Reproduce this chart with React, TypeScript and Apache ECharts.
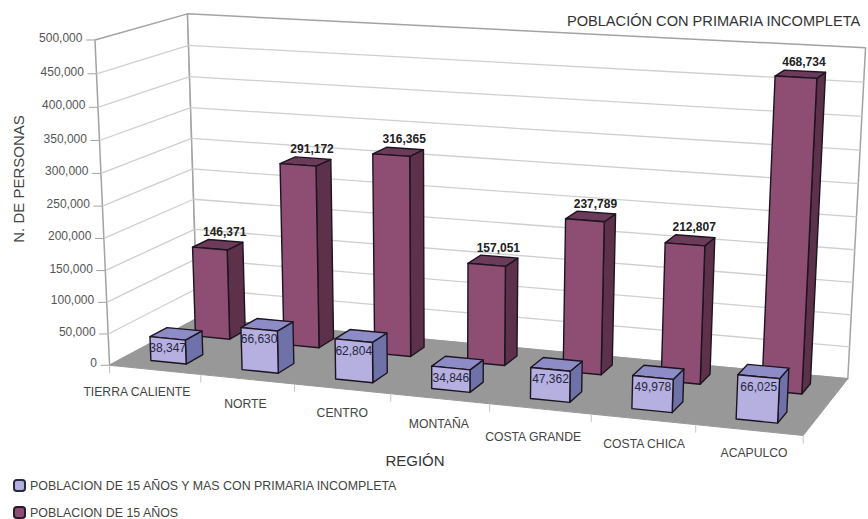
import React, { useEffect, useRef } from "react";
import * as echarts from "echarts";

const categories = ["TIERRA CALIENTE", "NORTE", "CENTRO", "MONTAÑA", "COSTA GRANDE", "COSTA CHICA", "ACAPULCO"];
const primariaIncompleta = [38347, 66630, 62804, 34846, 47362, 49978, 66025];
const poblacion15 = [146371, 291172, 316365, 157051, 237789, 212807, 468734];
const yTicks = [0, 50000, 100000, 150000, 200000, 250000, 300000, 350000, 400000, 450000, 500000];
const seriesNames = ["POBLACION DE 15 AÑOS Y MAS CON PRIMARIA INCOMPLETA", "POBLACION DE 15 AÑOS"];
const titleText = "POBLACIÓN CON PRIMARIA INCOMPLETA";
const yAxisName = "N. DE PERSONAS";
const xAxisName = "REGIÓN";

const W = 868;
const H = 519;
const FONT = '"Liberation Sans", Arial, sans-serif';

// Camera calibration: unit box (u along categories, v depth, t height) -> screen
const calibration: number[][] = [
  [0, 0, 0, 112, 364],
  [0, 0, 1, 94, 40],
  [0, 0, 1, 94, 40],
  [0, 0, 1, 94, 40],
  [0, 0, 0.5, 103, 206],
  [0, 1, 0, 195, 320],
  [0, 1, 1, 189, 14],
  [0, 1, 1, 189, 14],
  [0, 1, 0.5, 192, 168],
  [1, 1, 0, 848, 377],
  [1, 1, 1, 865, 48],
  [1, 1, 0.5, 857, 217],
  [1, 0, 0, 803, 437],
];

function solveCamera(): number[] {
  const rows: number[][] = [];
  const rhs: number[] = [];
  calibration.forEach(([u, v, t, x, y]) => {
    rows.push([u, v, t, 1, 0, 0, 0, 0, -x * u, -x * v, -x * t]);
    rhs.push(x);
    rows.push([0, 0, 0, 0, u, v, t, 1, -y * u, -y * v, -y * t]);
    rhs.push(y);
  });
  const n = 11;
  const M: number[][] = [];
  for (let i = 0; i < n; i++) {
    const r: number[] = [];
    for (let j = 0; j < n; j++) {
      r.push(rows.reduce((s, row) => s + row[i] * row[j], 0));
    }
    r.push(rows.reduce((s, row, k) => s + row[i] * rhs[k], 0));
    M.push(r);
  }
  for (let c = 0; c < n; c++) {
    let p = c;
    for (let r = c + 1; r < n; r++) if (Math.abs(M[r][c]) > Math.abs(M[p][c])) p = r;
    [M[c], M[p]] = [M[p], M[c]];
    for (let r = 0; r < n; r++) {
      if (r === c) continue;
      const f = M[r][c] / M[c][c];
      for (let k = c; k <= n; k++) M[r][k] -= f * M[c][k];
    }
  }
  return M.map((r, i) => r[n] / r[i]);
}
const cam = solveCamera();
function project(u: number, v: number, t: number): number[] {
  const w = cam[8] * u + cam[9] * v + cam[10] * t + 1;
  return [
    (cam[0] * u + cam[1] * v + cam[2] * t + cam[3]) / w,
    (cam[4] * u + cam[5] * v + cam[6] * t + cam[7]) / w,
  ];
}

const BAR_SHARE = 0.39;
const WALL = "#a3a3a3";
const GRID = "#cfcfcf";
const INK = "#1d1420";
// Small per-label offsets of the category names from their computed anchor
const labelDx = [-18, -2, 0, -1, -7, 1, 5];
const labelDy = [22, 25, 24, 25, 28, 25, 23];

function poly(points: number[][], fill: string, stroke = INK, lineWidth = 1.4) {
  return { type: "polygon", shape: { points }, style: { fill, stroke, lineWidth, lineJoin: "round" } };
}
function seg(a: number[], b: number[], stroke: string, lineWidth = 1.3) {
  return { type: "line", shape: { x1: a[0], y1: a[1], x2: b[0], y2: b[1] }, style: { stroke, lineWidth } };
}
function label(text: string, x: number, y: number, size: number, fill: string, align = "center", weight = "normal") {
  return {
    type: "text",
    style: { text, x, y, fill, align, verticalAlign: "middle", font: `${weight} ${size}px ${FONT}` },
  };
}

const toU = (px: number) => px / W;
const toT = (py: number) => (H - py) / H;

function renderRoom(_p: any, _api: any) {
  const fl0 = project(0, 0, 0), fl1 = project(0, 0, 1);
  const bl0 = project(0, 1, 0), bl1 = project(0, 1, 1);
  const br0 = project(1, 1, 0), br1 = project(1, 1, 1);
  const fr0 = project(1, 0, 0);
  return {
    type: "group",
    children: [
      poly([fl0, fl1, bl1, bl0], "#ffffff", WALL, 1.5),
      poly([bl0, bl1, br1, br0], "#ffffff", WALL, 1.5),
      poly([fl0, bl0, br0, fr0], "#989898", "#989898", 1),
    ],
  };
}

function renderYTick(_p: any, api: any) {
  const value = api.value(1);
  const t = toT(api.coord([0, value])[1]);
  const front = project(0, 0, t);
  const back = project(0, 1, t);
  const right = project(1, 1, t);
  const children: any[] = [
    seg([front[0] - 9, front[1]], front, WALL, 1),
    label(Number(value).toLocaleString("en-US"), front[0] - 12.5, front[1] - 2, 12, "#555555", "right"),
  ];
  if (value > 0 && value < 500000) {
    children.unshift(seg(front, back, GRID), seg(back, right, GRID));
  }
  return { type: "group", children };
}

function renderXTick(_p: any, api: any) {
  const i = api.value(0);
  const band = toU(api.size([1, 0])[0]);
  const u = toU(api.coord([i, 0])[0]);
  const a = project(u - band / 2, 0, 0);
  const mid = project(u, 0, 0);
  const children: any[] = [
    seg(a, [a[0], a[1] + 8], "#c4c4c4", 1),
    label(categories[i], mid[0] + labelDx[i], mid[1] + labelDy[i], 12.2, "#444444"),
  ];
  if (i === categories.length - 1) {
    const e = project(1, 0, 0);
    children.push(seg(e, [e[0], e[1] + 8], "#c4c4c4", 1));
  }
  return { type: "group", children };
}

function makeBar(v0: number, v1: number, front: string, top: string, side: string, inside: boolean) {
  return (_p: any, api: any) => {
    const i = api.value(0);
    const val = api.value(1);
    const base = api.coord([i, 0]);
    const tip = api.coord([i, val]);
    const uc = toU(base[0]);
    const half = (toU(api.size([1, 0])[0]) * BAR_SHARE) / 2;
    const t = toT(tip[1]);
    const u0 = uc - half, u1 = uc + half;
    const a = project(u0, v0, 0), b = project(u1, v0, 0), c = project(u1, v1, 0);
    const d = project(u0, v0, t), e = project(u1, v0, t), f = project(u1, v1, t), g = project(u0, v1, t);
    const text = Number(val).toLocaleString("en-US");
    const lab = inside
      ? label(text, (d[0] + e[0]) / 2 , (d[1] + e[1]) / 2 + 10, 12, "#26263f")
      : label(text, (g[0] + f[0]) / 2 - 1, (g[1] + f[1]) / 2 - 9, 12, "#222222", "center", "bold");
    return {
      type: "group",
      children: [poly([b, c, f, e], side), poly([d, e, f, g], top), poly([a, b, e, d], front), lab],
    };
  };
}

export default function App() {
  const ref = useRef<HTMLDivElement>(null);
  useEffect(() => {
    document.body.style.margin = "0";
    const chart = echarts.init(ref.current!, undefined, { renderer: "svg" });
    const pair = (arr: number[]) => arr.map((v, i) => [i, v]);
    chart.setOption({
      animation: false,
      backgroundColor: "#ffffff",
      title: {
        text: titleText,
        right: 2,
        top: 8,
        textStyle: { fontFamily: FONT, fontSize: 14.6, fontWeight: "normal", color: "#333333" },
      },
      legend: {
        orient: "vertical",
        left: 13,
        top: 479,
        height: 60,
        padding: 0,
        itemWidth: 11,
        itemHeight: 11,
        itemGap: 14,
        selectedMode: false,
        data: seriesNames,
        textStyle: { fontFamily: FONT, fontSize: 12.4, color: "#444444" },
      },
      grid: { left: 0, right: 0, top: 0, bottom: 0 },
      xAxis: { type: "category", data: categories, show: false },
      yAxis: { type: "value", min: 0, max: 500000, interval: 50000, show: false },
      graphic: [
        {
          type: "text",
          x: 18,
          y: 179,
          rotation: Math.PI / 2,
          style: { text: yAxisName, fill: "#444444", align: "center", verticalAlign: "middle", font: `15px ${FONT}` },
        },
        {
          type: "text",
          x: 415,
          y: 460,
          style: { text: xAxisName, fill: "#333333", align: "center", verticalAlign: "middle", font: `15px ${FONT}` },
        },
      ],
      series: [
        { type: "custom", name: "room", silent: true, clip: false, z: 1, renderItem: renderRoom, data: [[0, 0]] },
        { type: "custom", name: "yticks", silent: true, clip: false, z: 2, renderItem: renderYTick, data: yTicks.map((v) => [0, v]) },
        { type: "custom", name: "xticks", silent: true, clip: false, z: 2, renderItem: renderXTick, data: categories.map((_, i) => [i, 0]) },
        {
          type: "custom",
          name: seriesNames[1],
          clip: false,
          z: 3,
          itemStyle: { color: "#8e4d72", borderColor: "#2a1a2a", borderWidth: 1 },
          renderItem: makeBar(0.66, 0.85, "#8e4d72", "#6b3b59", "#5c3149", false),
          data: pair(poblacion15),
        },
        {
          type: "custom",
          name: seriesNames[0],
          clip: false,
          z: 4,
          itemStyle: { color: "#b3aedd", borderColor: "#2a2a3a", borderWidth: 1 },
          renderItem: makeBar(0.15, 0.34, "#b5b0df", "#8e8cc6", "#6f72a8", true),
          data: pair(primariaIncompleta),
        },
      ],
    });
    return () => chart.dispose();
  }, []);
  return <div ref={ref} style={{ width: W, height: H }} />;
}
